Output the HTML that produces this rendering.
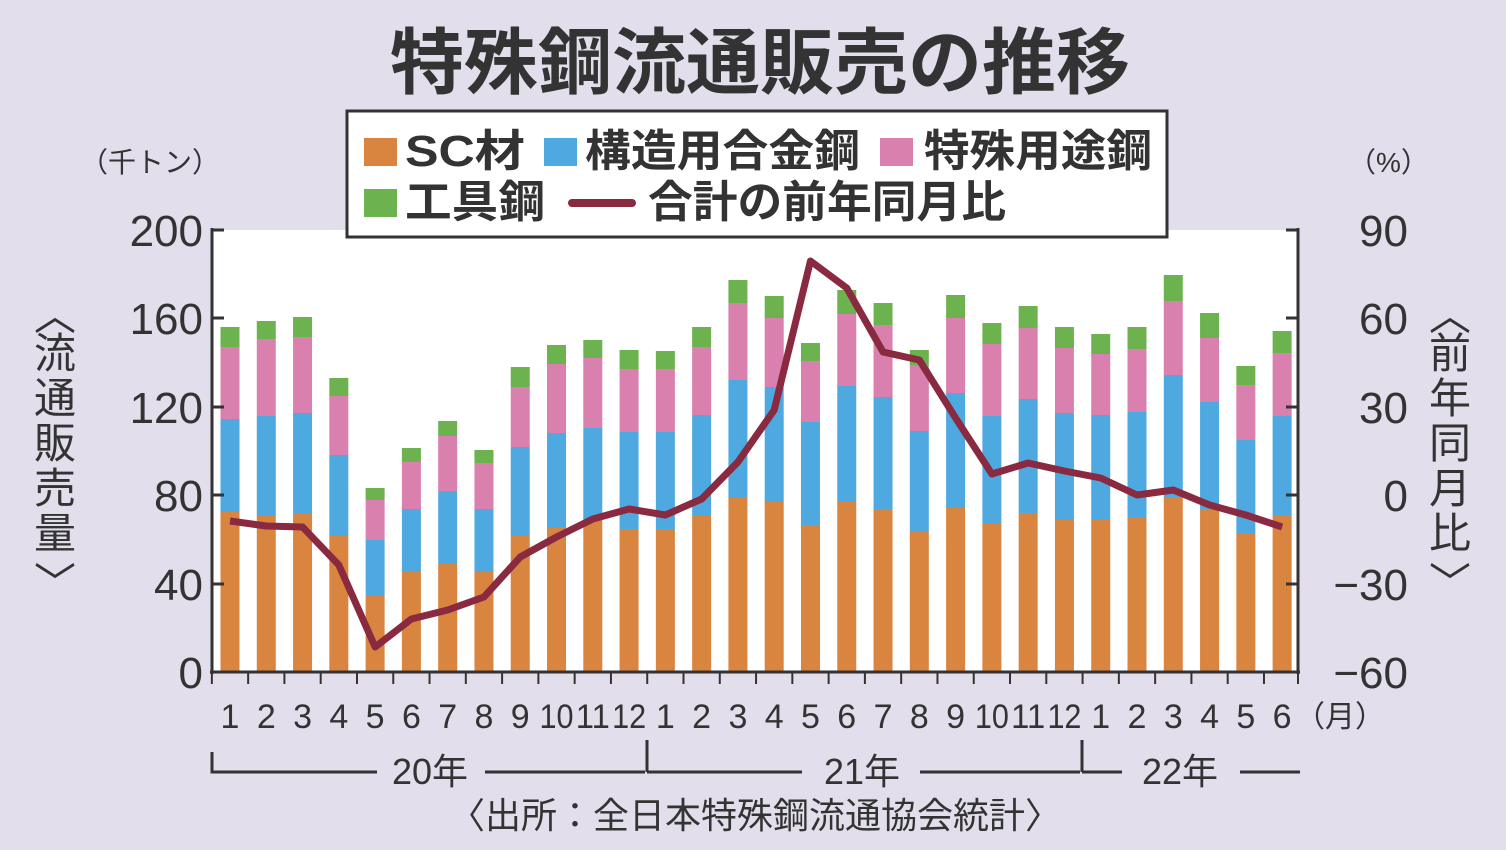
<!DOCTYPE html>
<html><head><meta charset="utf-8"><style>
html,body{margin:0;padding:0;background:#e2deeb;}
svg{display:block}
text{font-family:"Liberation Sans","Noto Sans CJK JP",sans-serif;fill:#333;}
</style></head><body>
<svg width="1506" height="850" viewBox="0 0 1506 850">
<rect width="1506" height="850" fill="#e2deeb"/>
<text x="760" y="88" font-size="72" font-weight="bold" text-anchor="middle" fill="#444" textLength="740" lengthAdjust="spacingAndGlyphs">特殊鋼流通販売の推移</text>
<rect x="212" y="230" width="1086" height="442" fill="#fff"/>
<g id="bars"></g>
<polyline id="line" fill="none" stroke="#8a2a40" stroke-width="7" stroke-linejoin="round"/>
<g stroke="#333" stroke-width="3" fill="none">
<line x1="212" y1="228" x2="212" y2="674"/>
<line x1="1298" y1="228" x2="1298" y2="674"/>
<line x1="210" y1="672" x2="1300" y2="672"/>
<path d="M212 230h12M212 318h12M212 407h12M212 495h12M212 584h12M1298 230h-12M1298 318h-12M1298 407h-12M1298 495h-12M1298 584h-12"/>
<path d="M212 752v20h165M485 772h160M647 740v32M647 772h155M920 772h160M1082 740v32M1082 772h40M1240 772h60"/>
</g>
<g id="ticks" stroke="#333" stroke-width="2"></g>
<g font-size="44" text-anchor="end">
<text x="203" y="246">200</text><text x="203" y="334">160</text><text x="203" y="423">120</text>
<text x="203" y="511">80</text><text x="203" y="600">40</text><text x="203" y="688">0</text>
</g>
<g font-size="44" text-anchor="end">
<text x="1408" y="246">90</text><text x="1408" y="334">60</text><text x="1408" y="423">30</text>
<text x="1408" y="511">0</text><text x="1408" y="600">−30</text><text x="1408" y="688">−60</text>
</g>
<text x="80" y="172" font-size="28">（千トン）</text>
<text x="1348" y="172" font-size="28">（%）</text>
<g font-size="42" text-anchor="middle">
<text x="55" y="330">︿</text><text x="55" y="368">流</text><text x="55" y="413">通</text><text x="55" y="458">販</text><text x="55" y="503">売</text><text x="55" y="548">量</text><text x="55" y="598">﹀</text>
<text x="1450" y="330">︿</text><text x="1450" y="368">前</text><text x="1450" y="413">年</text><text x="1450" y="458">同</text><text x="1450" y="503">月</text><text x="1450" y="548">比</text><text x="1450" y="598">﹀</text>
</g>
<g id="xl" font-size="34" text-anchor="middle"></g>
<text x="1340" y="727" font-size="30" text-anchor="middle">（月）</text>
<g font-size="36" text-anchor="middle">
<text x="430" y="784">20年</text><text x="862" y="784">21年</text><text x="1180" y="784">22年</text>
</g>
<text x="755" y="828" font-size="36" text-anchor="middle">〈出所：全日本特殊鋼流通協会統計〉</text>
<rect x="347" y="111" width="820" height="126" fill="#fff" stroke="#333" stroke-width="3"/>
<g font-size="44" font-weight="bold" fill="#333">
<rect x="364" y="138" width="33" height="28" fill="#d9843f"/><text x="405" y="166" textLength="120" lengthAdjust="spacingAndGlyphs">SC材</text>
<rect x="544" y="138" width="33" height="28" fill="#4ea9e1"/><text x="585" y="166" textLength="275" lengthAdjust="spacingAndGlyphs">構造用合金鋼</text>
<rect x="880" y="138" width="33" height="28" fill="#d980ae"/><text x="924" y="166" textLength="228" lengthAdjust="spacingAndGlyphs">特殊用途鋼</text>
<rect x="364" y="189" width="33" height="28" fill="#6cb24f"/><text x="405" y="217" textLength="140" lengthAdjust="spacingAndGlyphs">工具鋼</text>
<line x1="572" y1="203" x2="632" y2="203" stroke="#8a2a40" stroke-width="8" stroke-linecap="round"/><text x="648" y="217" textLength="358" lengthAdjust="spacingAndGlyphs">合計の前年同月比</text>
</g>
<script>
var d=[[512,419,347,327],[516,416,339,321],[514,413,337,317],[535,455,396,378],[595,540,500,488],[572,509,462,448],[563,491,436,421],[571,509,463,450],[535,447,387,367],[527,433,364,345],[520,428,358,340],[529,432,369,350],[529,432,369,351],[515,415,347,327],[498,380,303,280],[502,387,318,296],[525,422,361,343],[502,386,314,290],[509,397,325,303],[531,431,365,350],[508,393,318,295],[523,416,344,323],[513,399,328,306],[519,413,348,327],[520,415,354,334],[517,412,349,327],[497,375,301,275],[510,402,338,313],[533,440,385,366],[516,416,353,331]];
var L=[521,526,527,565,647,619,610,597,557,537,519,509,515,499,462,410,261,288,352,360,418,474,463,471,478,495,490,505,515,527];
var cols=["#d9843f","#4ea9e1","#d980ae","#6cb24f"];
var ns="http://www.w3.org/2000/svg",b=document.getElementById("bars"),t=document.getElementById("ticks"),xl=document.getElementById("xl");
var pts=[];
for(var i=0;i<30;i++){var cx=230+i*36.28;var prev=672;
for(var k=0;k<4;k++){var r=document.createElementNS(ns,"rect");r.setAttribute("x",cx-9.5);r.setAttribute("width",19);r.setAttribute("y",d[i][k]);r.setAttribute("height",prev-d[i][k]);r.setAttribute("fill",cols[k]);b.appendChild(r);prev=d[i][k];}
pts.push(cx+","+L[i]);
var m=(i%12)+1;if(i>=24)m=i-23;
var tx=document.createElementNS(ns,"text");tx.setAttribute("x",cx);tx.setAttribute("y",728);tx.textContent=m;if(m>=10){tx.setAttribute("textLength","34");tx.setAttribute("lengthAdjust","spacingAndGlyphs");}xl.appendChild(tx);
var tl=document.createElementNS(ns,"line");var tx2=cx-18.14;tl.setAttribute("x1",tx2);tl.setAttribute("x2",tx2);tl.setAttribute("y1",672);tl.setAttribute("y2",684);t.appendChild(tl);}
var tl=document.createElementNS(ns,"line");tl.setAttribute("x1",1298);tl.setAttribute("x2",1298);tl.setAttribute("y1",672);tl.setAttribute("y2",684);t.appendChild(tl);
document.getElementById("line").setAttribute("points",pts.join(" "));
</script>
</svg>
</body></html>
